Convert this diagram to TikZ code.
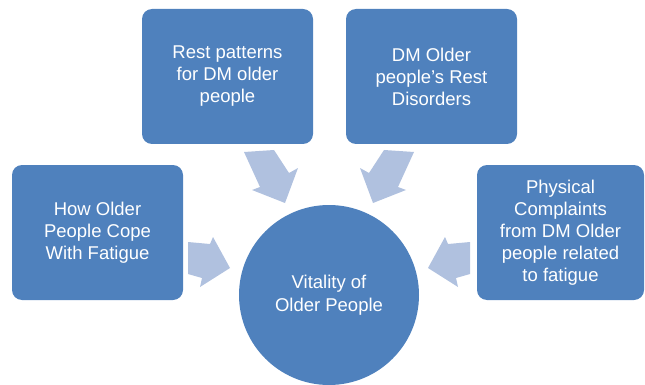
\documentclass[tikz,border=0pt]{standalone}
\usepackage{fontspec}
\setmainfont{Liberation Sans}
\definecolor{boxblue}{RGB}{79,129,189}
\definecolor{arrowblue}{RGB}{176,193,223}
\begin{document}
\begin{tikzpicture}[x=1pt,y=-1pt,
  box/.style={fill=boxblue, rounded corners=10pt, minimum width=171pt, minimum height=135pt,
    inner sep=0pt, text=white, align=center, font=\fontsize{18.5}{22}\selectfont},
  hub/.style={circle, fill=boxblue, minimum size=180pt, inner sep=0pt, text=white,
    align=center, font=\fontsize{18.5}{23}\selectfont},
  blockarrow/.style={fill=arrowblue}]
\useasboundingbox (0,0) rectangle (645,385);
\node[box] (b1) at (97.5,232.5) {How Older\\People Cope\\With Fatigue};
\node[box] (b2) at (227.5,76.5) {Rest patterns\\for DM older\\people};
\node[box] (b3) at (431.5,76.5) {DM Older\\people’s Rest\\Disorders};
\node[box, minimum width=167pt] (b4) at (560.5,232.5) {Physical\\Complaints\\from DM Older\\people related\\to fatigue};
\node[hub] (c) at (329,295) {Vitality of\\Older People};
% block arrows
\fill[blockarrow] (244,152) -- (274,150) -- (289,173) -- (298,168) -- (285,203) -- (252,190) -- (260,187) -- cycle;
\fill[blockarrow] (414,152) -- (384,150) -- (369,173) -- (360,168) -- (373,203) -- (406,190) -- (398,187) -- cycle;
\fill[blockarrow] (188,242) -- (210,244) -- (213,237) -- (230,268) -- (200,287) -- (202,278) -- (188,274) -- cycle;
\fill[blockarrow] (470,242) -- (448,244) -- (445,237) -- (428,268) -- (458,287) -- (456,278) -- (470,274) -- cycle;
\end{tikzpicture}
\end{document}
